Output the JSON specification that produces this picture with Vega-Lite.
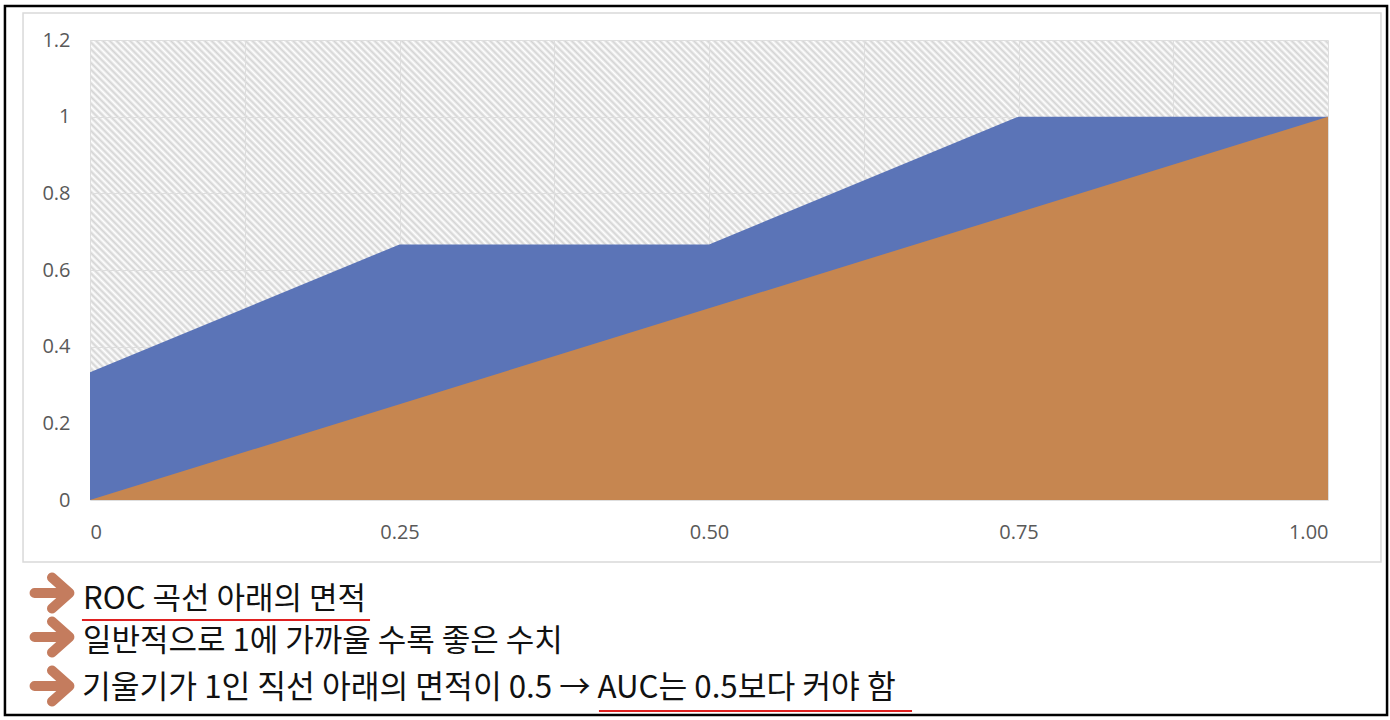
{
"$schema":"https://vega.github.io/schema/vega-lite/v6.json",
"autosize":"none",
"width":1238,"height":460,
"padding":{"left":90,"top":40,"right":62,"bottom":220},
"background":"white",
"view":{"stroke":null,"fill":{"gradient":"linear","x1":0,"y1":1,"x2":1.2053,"y2":0.5521,"stops":[
{"offset":0,"color":"#fff"},{"offset":0.002,"color":"#d4d4d4"},{"offset":0.004,"color":"#fff"},{"offset":0.006,"color":"#d4d4d4"},{"offset":0.008,"color":"#fff"},{"offset":0.01,"color":"#d4d4d4"},{"offset":0.012,"color":"#fff"},{"offset":0.014,"color":"#d4d4d4"},{"offset":0.016,"color":"#fff"},{"offset":0.018,"color":"#d4d4d4"},
{"offset":0.02,"color":"#fff"},{"offset":0.022,"color":"#d4d4d4"},{"offset":0.024,"color":"#fff"},{"offset":0.026,"color":"#d4d4d4"},{"offset":0.028,"color":"#fff"},{"offset":0.03,"color":"#d4d4d4"},{"offset":0.032,"color":"#fff"},{"offset":0.034,"color":"#d4d4d4"},{"offset":0.036,"color":"#fff"},{"offset":0.038,"color":"#d4d4d4"},
{"offset":0.04,"color":"#fff"},{"offset":0.042,"color":"#d4d4d4"},{"offset":0.044,"color":"#fff"},{"offset":0.046,"color":"#d4d4d4"},{"offset":0.048,"color":"#fff"},{"offset":0.05,"color":"#d4d4d4"},{"offset":0.052,"color":"#fff"},{"offset":0.054,"color":"#d4d4d4"},{"offset":0.056,"color":"#fff"},{"offset":0.058,"color":"#d4d4d4"},
{"offset":0.06,"color":"#fff"},{"offset":0.062,"color":"#d4d4d4"},{"offset":0.064,"color":"#fff"},{"offset":0.066,"color":"#d4d4d4"},{"offset":0.068,"color":"#fff"},{"offset":0.07,"color":"#d4d4d4"},{"offset":0.072,"color":"#fff"},{"offset":0.074,"color":"#d4d4d4"},{"offset":0.076,"color":"#fff"},{"offset":0.078,"color":"#d4d4d4"},
{"offset":0.08,"color":"#fff"},{"offset":0.082,"color":"#d4d4d4"},{"offset":0.084,"color":"#fff"},{"offset":0.086,"color":"#d4d4d4"},{"offset":0.088,"color":"#fff"},{"offset":0.09,"color":"#d4d4d4"},{"offset":0.092,"color":"#fff"},{"offset":0.094,"color":"#d4d4d4"},{"offset":0.096,"color":"#fff"},{"offset":0.098,"color":"#d4d4d4"},
{"offset":0.1,"color":"#fff"},{"offset":0.102,"color":"#d4d4d4"},{"offset":0.104,"color":"#fff"},{"offset":0.106,"color":"#d4d4d4"},{"offset":0.108,"color":"#fff"},{"offset":0.11,"color":"#d4d4d4"},{"offset":0.112,"color":"#fff"},{"offset":0.114,"color":"#d4d4d4"},{"offset":0.116,"color":"#fff"},{"offset":0.118,"color":"#d4d4d4"},
{"offset":0.12,"color":"#fff"},{"offset":0.122,"color":"#d4d4d4"},{"offset":0.124,"color":"#fff"},{"offset":0.126,"color":"#d4d4d4"},{"offset":0.128,"color":"#fff"},{"offset":0.13,"color":"#d4d4d4"},{"offset":0.132,"color":"#fff"},{"offset":0.134,"color":"#d4d4d4"},{"offset":0.136,"color":"#fff"},{"offset":0.138,"color":"#d4d4d4"},
{"offset":0.14,"color":"#fff"},{"offset":0.142,"color":"#d4d4d4"},{"offset":0.144,"color":"#fff"},{"offset":0.146,"color":"#d4d4d4"},{"offset":0.148,"color":"#fff"},{"offset":0.15,"color":"#d4d4d4"},{"offset":0.152,"color":"#fff"},{"offset":0.154,"color":"#d4d4d4"},{"offset":0.156,"color":"#fff"},{"offset":0.158,"color":"#d4d4d4"},
{"offset":0.16,"color":"#fff"},{"offset":0.162,"color":"#d4d4d4"},{"offset":0.164,"color":"#fff"},{"offset":0.166,"color":"#d4d4d4"},{"offset":0.168,"color":"#fff"},{"offset":0.17,"color":"#d4d4d4"},{"offset":0.172,"color":"#fff"},{"offset":0.174,"color":"#d4d4d4"},{"offset":0.176,"color":"#fff"},{"offset":0.178,"color":"#d4d4d4"},
{"offset":0.18,"color":"#fff"},{"offset":0.182,"color":"#d4d4d4"},{"offset":0.184,"color":"#fff"},{"offset":0.186,"color":"#d4d4d4"},{"offset":0.188,"color":"#fff"},{"offset":0.19,"color":"#d4d4d4"},{"offset":0.192,"color":"#fff"},{"offset":0.194,"color":"#d4d4d4"},{"offset":0.196,"color":"#fff"},{"offset":0.198,"color":"#d4d4d4"},
{"offset":0.2,"color":"#fff"},{"offset":0.202,"color":"#d4d4d4"},{"offset":0.204,"color":"#fff"},{"offset":0.206,"color":"#d4d4d4"},{"offset":0.208,"color":"#fff"},{"offset":0.21,"color":"#d4d4d4"},{"offset":0.212,"color":"#fff"},{"offset":0.214,"color":"#d4d4d4"},{"offset":0.216,"color":"#fff"},{"offset":0.218,"color":"#d4d4d4"},
{"offset":0.22,"color":"#fff"},{"offset":0.222,"color":"#d4d4d4"},{"offset":0.224,"color":"#fff"},{"offset":0.226,"color":"#d4d4d4"},{"offset":0.228,"color":"#fff"},{"offset":0.23,"color":"#d4d4d4"},{"offset":0.232,"color":"#fff"},{"offset":0.234,"color":"#d4d4d4"},{"offset":0.236,"color":"#fff"},{"offset":0.238,"color":"#d4d4d4"},
{"offset":0.24,"color":"#fff"},{"offset":0.242,"color":"#d4d4d4"},{"offset":0.244,"color":"#fff"},{"offset":0.246,"color":"#d4d4d4"},{"offset":0.248,"color":"#fff"},{"offset":0.25,"color":"#d4d4d4"},{"offset":0.252,"color":"#fff"},{"offset":0.254,"color":"#d4d4d4"},{"offset":0.256,"color":"#fff"},{"offset":0.258,"color":"#d4d4d4"},
{"offset":0.26,"color":"#fff"},{"offset":0.262,"color":"#d4d4d4"},{"offset":0.264,"color":"#fff"},{"offset":0.266,"color":"#d4d4d4"},{"offset":0.268,"color":"#fff"},{"offset":0.27,"color":"#d4d4d4"},{"offset":0.272,"color":"#fff"},{"offset":0.274,"color":"#d4d4d4"},{"offset":0.276,"color":"#fff"},{"offset":0.278,"color":"#d4d4d4"},
{"offset":0.28,"color":"#fff"},{"offset":0.282,"color":"#d4d4d4"},{"offset":0.284,"color":"#fff"},{"offset":0.286,"color":"#d4d4d4"},{"offset":0.288,"color":"#fff"},{"offset":0.29,"color":"#d4d4d4"},{"offset":0.292,"color":"#fff"},{"offset":0.294,"color":"#d4d4d4"},{"offset":0.296,"color":"#fff"},{"offset":0.298,"color":"#d4d4d4"},
{"offset":0.3,"color":"#fff"},{"offset":0.302,"color":"#d4d4d4"},{"offset":0.304,"color":"#fff"},{"offset":0.306,"color":"#d4d4d4"},{"offset":0.308,"color":"#fff"},{"offset":0.31,"color":"#d4d4d4"},{"offset":0.312,"color":"#fff"},{"offset":0.314,"color":"#d4d4d4"},{"offset":0.316,"color":"#fff"},{"offset":0.318,"color":"#d4d4d4"},
{"offset":0.32,"color":"#fff"},{"offset":0.322,"color":"#d4d4d4"},{"offset":0.324,"color":"#fff"},{"offset":0.326,"color":"#d4d4d4"},{"offset":0.328,"color":"#fff"},{"offset":0.33,"color":"#d4d4d4"},{"offset":0.332,"color":"#fff"},{"offset":0.334,"color":"#d4d4d4"},{"offset":0.336,"color":"#fff"},{"offset":0.338,"color":"#d4d4d4"},
{"offset":0.34,"color":"#fff"},{"offset":0.342,"color":"#d4d4d4"},{"offset":0.344,"color":"#fff"},{"offset":0.346,"color":"#d4d4d4"},{"offset":0.348,"color":"#fff"},{"offset":0.35,"color":"#d4d4d4"},{"offset":0.352,"color":"#fff"},{"offset":0.354,"color":"#d4d4d4"},{"offset":0.356,"color":"#fff"},{"offset":0.358,"color":"#d4d4d4"},
{"offset":0.36,"color":"#fff"},{"offset":0.362,"color":"#d4d4d4"},{"offset":0.364,"color":"#fff"},{"offset":0.366,"color":"#d4d4d4"},{"offset":0.368,"color":"#fff"},{"offset":0.37,"color":"#d4d4d4"},{"offset":0.372,"color":"#fff"},{"offset":0.374,"color":"#d4d4d4"},{"offset":0.376,"color":"#fff"},{"offset":0.378,"color":"#d4d4d4"},
{"offset":0.38,"color":"#fff"},{"offset":0.382,"color":"#d4d4d4"},{"offset":0.384,"color":"#fff"},{"offset":0.386,"color":"#d4d4d4"},{"offset":0.388,"color":"#fff"},{"offset":0.39,"color":"#d4d4d4"},{"offset":0.392,"color":"#fff"},{"offset":0.394,"color":"#d4d4d4"},{"offset":0.396,"color":"#fff"},{"offset":0.398,"color":"#d4d4d4"},
{"offset":0.4,"color":"#fff"},{"offset":0.402,"color":"#d4d4d4"},{"offset":0.404,"color":"#fff"},{"offset":0.406,"color":"#d4d4d4"},{"offset":0.408,"color":"#fff"},{"offset":0.41,"color":"#d4d4d4"},{"offset":0.412,"color":"#fff"},{"offset":0.414,"color":"#d4d4d4"},{"offset":0.416,"color":"#fff"},{"offset":0.418,"color":"#d4d4d4"},
{"offset":0.42,"color":"#fff"},{"offset":0.422,"color":"#d4d4d4"},{"offset":0.424,"color":"#fff"},{"offset":0.426,"color":"#d4d4d4"},{"offset":0.428,"color":"#fff"},{"offset":0.43,"color":"#d4d4d4"},{"offset":0.432,"color":"#fff"},{"offset":0.434,"color":"#d4d4d4"},{"offset":0.436,"color":"#fff"},{"offset":0.438,"color":"#d4d4d4"},
{"offset":0.44,"color":"#fff"},{"offset":0.442,"color":"#d4d4d4"},{"offset":0.444,"color":"#fff"},{"offset":0.446,"color":"#d4d4d4"},{"offset":0.448,"color":"#fff"},{"offset":0.45,"color":"#d4d4d4"},{"offset":0.452,"color":"#fff"},{"offset":0.454,"color":"#d4d4d4"},{"offset":0.456,"color":"#fff"},{"offset":0.458,"color":"#d4d4d4"},
{"offset":0.46,"color":"#fff"},{"offset":0.462,"color":"#d4d4d4"},{"offset":0.464,"color":"#fff"},{"offset":0.466,"color":"#d4d4d4"},{"offset":0.468,"color":"#fff"},{"offset":0.47,"color":"#d4d4d4"},{"offset":0.472,"color":"#fff"},{"offset":0.474,"color":"#d4d4d4"},{"offset":0.476,"color":"#fff"},{"offset":0.478,"color":"#d4d4d4"},
{"offset":0.48,"color":"#fff"},{"offset":0.482,"color":"#d4d4d4"},{"offset":0.484,"color":"#fff"},{"offset":0.486,"color":"#d4d4d4"},{"offset":0.488,"color":"#fff"},{"offset":0.49,"color":"#d4d4d4"},{"offset":0.492,"color":"#fff"},{"offset":0.494,"color":"#d4d4d4"},{"offset":0.496,"color":"#fff"},{"offset":0.498,"color":"#d4d4d4"},
{"offset":0.5,"color":"#fff"},{"offset":0.502,"color":"#d4d4d4"},{"offset":0.504,"color":"#fff"},{"offset":0.506,"color":"#d4d4d4"},{"offset":0.508,"color":"#fff"},{"offset":0.51,"color":"#d4d4d4"},{"offset":0.512,"color":"#fff"},{"offset":0.514,"color":"#d4d4d4"},{"offset":0.516,"color":"#fff"},{"offset":0.518,"color":"#d4d4d4"},
{"offset":0.52,"color":"#fff"},{"offset":0.522,"color":"#d4d4d4"},{"offset":0.524,"color":"#fff"},{"offset":0.526,"color":"#d4d4d4"},{"offset":0.528,"color":"#fff"},{"offset":0.53,"color":"#d4d4d4"},{"offset":0.532,"color":"#fff"},{"offset":0.534,"color":"#d4d4d4"},{"offset":0.536,"color":"#fff"},{"offset":0.538,"color":"#d4d4d4"},
{"offset":0.54,"color":"#fff"},{"offset":0.542,"color":"#d4d4d4"},{"offset":0.544,"color":"#fff"},{"offset":0.546,"color":"#d4d4d4"},{"offset":0.548,"color":"#fff"},{"offset":0.55,"color":"#d4d4d4"},{"offset":0.552,"color":"#fff"},{"offset":0.554,"color":"#d4d4d4"},{"offset":0.556,"color":"#fff"},{"offset":0.558,"color":"#d4d4d4"},
{"offset":0.56,"color":"#fff"},{"offset":0.562,"color":"#d4d4d4"},{"offset":0.564,"color":"#fff"},{"offset":0.566,"color":"#d4d4d4"},{"offset":0.568,"color":"#fff"},{"offset":0.57,"color":"#d4d4d4"},{"offset":0.572,"color":"#fff"},{"offset":0.574,"color":"#d4d4d4"},{"offset":0.576,"color":"#fff"},{"offset":0.578,"color":"#d4d4d4"},
{"offset":0.58,"color":"#fff"},{"offset":0.582,"color":"#d4d4d4"},{"offset":0.584,"color":"#fff"},{"offset":0.586,"color":"#d4d4d4"},{"offset":0.588,"color":"#fff"},{"offset":0.59,"color":"#d4d4d4"},{"offset":0.592,"color":"#fff"},{"offset":0.594,"color":"#d4d4d4"},{"offset":0.596,"color":"#fff"},{"offset":0.598,"color":"#d4d4d4"},
{"offset":0.6,"color":"#fff"},{"offset":0.602,"color":"#d4d4d4"},{"offset":0.604,"color":"#fff"},{"offset":0.606,"color":"#d4d4d4"},{"offset":0.608,"color":"#fff"},{"offset":0.61,"color":"#d4d4d4"},{"offset":0.612,"color":"#fff"},{"offset":0.614,"color":"#d4d4d4"},{"offset":0.616,"color":"#fff"},{"offset":0.618,"color":"#d4d4d4"},
{"offset":0.62,"color":"#fff"},{"offset":0.622,"color":"#d4d4d4"},{"offset":0.624,"color":"#fff"},{"offset":0.626,"color":"#d4d4d4"},{"offset":0.628,"color":"#fff"},{"offset":0.63,"color":"#d4d4d4"},{"offset":0.632,"color":"#fff"},{"offset":0.634,"color":"#d4d4d4"},{"offset":0.636,"color":"#fff"},{"offset":0.638,"color":"#d4d4d4"},
{"offset":0.64,"color":"#fff"},{"offset":0.642,"color":"#d4d4d4"},{"offset":0.644,"color":"#fff"},{"offset":0.646,"color":"#d4d4d4"},{"offset":0.648,"color":"#fff"},{"offset":0.65,"color":"#d4d4d4"},{"offset":0.652,"color":"#fff"},{"offset":0.654,"color":"#d4d4d4"},{"offset":0.656,"color":"#fff"},{"offset":0.658,"color":"#d4d4d4"},
{"offset":0.66,"color":"#fff"},{"offset":0.662,"color":"#d4d4d4"},{"offset":0.664,"color":"#fff"},{"offset":0.666,"color":"#d4d4d4"},{"offset":0.668,"color":"#fff"},{"offset":0.67,"color":"#d4d4d4"},{"offset":0.672,"color":"#fff"},{"offset":0.674,"color":"#d4d4d4"},{"offset":0.676,"color":"#fff"},{"offset":0.678,"color":"#d4d4d4"},
{"offset":0.68,"color":"#fff"},{"offset":0.682,"color":"#d4d4d4"},{"offset":0.684,"color":"#fff"},{"offset":0.686,"color":"#d4d4d4"},{"offset":0.688,"color":"#fff"},{"offset":0.69,"color":"#d4d4d4"},{"offset":0.692,"color":"#fff"},{"offset":0.694,"color":"#d4d4d4"},{"offset":0.696,"color":"#fff"},{"offset":0.698,"color":"#d4d4d4"},
{"offset":0.7,"color":"#fff"},{"offset":0.702,"color":"#d4d4d4"},{"offset":0.704,"color":"#fff"},{"offset":0.706,"color":"#d4d4d4"},{"offset":0.708,"color":"#fff"},{"offset":0.71,"color":"#d4d4d4"},{"offset":0.712,"color":"#fff"},{"offset":0.714,"color":"#d4d4d4"},{"offset":0.716,"color":"#fff"},{"offset":0.718,"color":"#d4d4d4"},
{"offset":0.72,"color":"#fff"},{"offset":0.722,"color":"#d4d4d4"},{"offset":0.724,"color":"#fff"},{"offset":0.726,"color":"#d4d4d4"},{"offset":0.728,"color":"#fff"},{"offset":0.73,"color":"#d4d4d4"},{"offset":0.732,"color":"#fff"},{"offset":0.734,"color":"#d4d4d4"},{"offset":0.736,"color":"#fff"},{"offset":0.738,"color":"#d4d4d4"},
{"offset":0.74,"color":"#fff"},{"offset":0.742,"color":"#d4d4d4"},{"offset":0.744,"color":"#fff"},{"offset":0.746,"color":"#d4d4d4"},{"offset":0.748,"color":"#fff"},{"offset":0.75,"color":"#d4d4d4"},{"offset":0.752,"color":"#fff"},{"offset":0.754,"color":"#d4d4d4"},{"offset":0.756,"color":"#fff"},{"offset":0.758,"color":"#d4d4d4"},
{"offset":0.76,"color":"#fff"},{"offset":0.762,"color":"#d4d4d4"},{"offset":0.764,"color":"#fff"},{"offset":0.766,"color":"#d4d4d4"},{"offset":0.768,"color":"#fff"},{"offset":0.77,"color":"#d4d4d4"},{"offset":0.772,"color":"#fff"},{"offset":0.774,"color":"#d4d4d4"},{"offset":0.776,"color":"#fff"},{"offset":0.778,"color":"#d4d4d4"},
{"offset":0.78,"color":"#fff"},{"offset":0.782,"color":"#d4d4d4"},{"offset":0.784,"color":"#fff"},{"offset":0.786,"color":"#d4d4d4"},{"offset":0.788,"color":"#fff"},{"offset":0.79,"color":"#d4d4d4"},{"offset":0.792,"color":"#fff"},{"offset":0.794,"color":"#d4d4d4"},{"offset":0.796,"color":"#fff"},{"offset":0.798,"color":"#d4d4d4"},
{"offset":0.8,"color":"#fff"},{"offset":0.802,"color":"#d4d4d4"},{"offset":0.804,"color":"#fff"},{"offset":0.806,"color":"#d4d4d4"},{"offset":0.808,"color":"#fff"},{"offset":0.81,"color":"#d4d4d4"},{"offset":0.812,"color":"#fff"},{"offset":0.814,"color":"#d4d4d4"},{"offset":0.816,"color":"#fff"},{"offset":0.818,"color":"#d4d4d4"},
{"offset":0.82,"color":"#fff"},{"offset":0.822,"color":"#d4d4d4"},{"offset":0.824,"color":"#fff"},{"offset":0.826,"color":"#d4d4d4"},{"offset":0.828,"color":"#fff"},{"offset":0.83,"color":"#d4d4d4"},{"offset":0.832,"color":"#fff"},{"offset":0.834,"color":"#d4d4d4"},{"offset":0.836,"color":"#fff"},{"offset":0.838,"color":"#d4d4d4"},
{"offset":0.84,"color":"#fff"},{"offset":0.842,"color":"#d4d4d4"},{"offset":0.844,"color":"#fff"},{"offset":0.846,"color":"#d4d4d4"},{"offset":0.848,"color":"#fff"},{"offset":0.85,"color":"#d4d4d4"},{"offset":0.852,"color":"#fff"},{"offset":0.854,"color":"#d4d4d4"},{"offset":0.856,"color":"#fff"},{"offset":0.858,"color":"#d4d4d4"},
{"offset":0.86,"color":"#fff"},{"offset":0.862,"color":"#d4d4d4"},{"offset":0.864,"color":"#fff"},{"offset":0.866,"color":"#d4d4d4"},{"offset":0.868,"color":"#fff"},{"offset":0.87,"color":"#d4d4d4"},{"offset":0.872,"color":"#fff"},{"offset":0.874,"color":"#d4d4d4"},{"offset":0.876,"color":"#fff"},{"offset":0.878,"color":"#d4d4d4"},
{"offset":0.88,"color":"#fff"},{"offset":0.882,"color":"#d4d4d4"},{"offset":0.884,"color":"#fff"},{"offset":0.886,"color":"#d4d4d4"},{"offset":0.888,"color":"#fff"},{"offset":0.89,"color":"#d4d4d4"},{"offset":0.892,"color":"#fff"},{"offset":0.894,"color":"#d4d4d4"},{"offset":0.896,"color":"#fff"},{"offset":0.898,"color":"#d4d4d4"},
{"offset":0.9,"color":"#fff"},{"offset":0.902,"color":"#d4d4d4"},{"offset":0.904,"color":"#fff"},{"offset":0.906,"color":"#d4d4d4"},{"offset":0.908,"color":"#fff"},{"offset":0.91,"color":"#d4d4d4"},{"offset":0.912,"color":"#fff"},{"offset":0.914,"color":"#d4d4d4"},{"offset":0.916,"color":"#fff"},{"offset":0.918,"color":"#d4d4d4"},
{"offset":0.92,"color":"#fff"},{"offset":0.922,"color":"#d4d4d4"},{"offset":0.924,"color":"#fff"},{"offset":0.926,"color":"#d4d4d4"},{"offset":0.928,"color":"#fff"},{"offset":0.93,"color":"#d4d4d4"},{"offset":0.932,"color":"#fff"},{"offset":0.934,"color":"#d4d4d4"},{"offset":0.936,"color":"#fff"},{"offset":0.938,"color":"#d4d4d4"},
{"offset":0.94,"color":"#fff"},{"offset":0.942,"color":"#d4d4d4"},{"offset":0.944,"color":"#fff"},{"offset":0.946,"color":"#d4d4d4"},{"offset":0.948,"color":"#fff"},{"offset":0.95,"color":"#d4d4d4"},{"offset":0.952,"color":"#fff"},{"offset":0.954,"color":"#d4d4d4"},{"offset":0.956,"color":"#fff"},{"offset":0.958,"color":"#d4d4d4"},
{"offset":0.96,"color":"#fff"},{"offset":0.962,"color":"#d4d4d4"},{"offset":0.964,"color":"#fff"},{"offset":0.966,"color":"#d4d4d4"},{"offset":0.968,"color":"#fff"},{"offset":0.97,"color":"#d4d4d4"},{"offset":0.972,"color":"#fff"},{"offset":0.974,"color":"#d4d4d4"},{"offset":0.976,"color":"#fff"},{"offset":0.978,"color":"#d4d4d4"},
{"offset":0.98,"color":"#fff"},{"offset":0.982,"color":"#d4d4d4"},{"offset":0.984,"color":"#fff"},{"offset":0.986,"color":"#d4d4d4"},{"offset":0.988,"color":"#fff"},{"offset":0.99,"color":"#d4d4d4"},{"offset":0.992,"color":"#fff"},{"offset":0.994,"color":"#d4d4d4"},{"offset":0.996,"color":"#fff"},{"offset":0.998,"color":"#d4d4d4"},
{"offset":1,"color":"#fff"}]}},
"config":{"axis":{"labelFont":"Open Sans","labelFontSize":20,"labelColor":"#595959","domain":false,"ticks":false,"gridColor":"#dedede","gridWidth":1,"title":null,"labelOverlap":false}},
"layer":[
{"data":{"values":[{"fpr":0,"roc":0.3333,"diag":0},{"fpr":0.25,"roc":0.6667,"diag":0.25},{"fpr":0.5,"roc":0.6667,"diag":0.5},{"fpr":0.75,"roc":1,"diag":0.75},{"fpr":1,"roc":1,"diag":1}]},
 "mark":{"type":"area","color":"#5b74b7","opacity":1},
 "encoding":{
  "x":{"field":"fpr","type":"quantitative","scale":{"domain":[0,1],"nice":false,"zero":false},
   "axis":{"values":[0,0.125,0.25,0.375,0.5,0.625,0.75,0.875,1],"labelExpr":"datum.value==0?'0':((datum.value*4)%1==0?format(datum.value,'.2f'):'')","labelPadding":22,"grid":true}},
  "y":{"field":"roc","type":"quantitative","scale":{"domain":[0,1.2],"nice":false,"zero":true},
   "axis":{"values":[0,0.2,0.4,0.6,0.8,1,1.2],"format":"~g","labelPadding":20,"grid":true}}}},
{"data":{"values":[{"fpr":0,"roc":0.3333,"diag":0},{"fpr":0.25,"roc":0.6667,"diag":0.25},{"fpr":0.5,"roc":0.6667,"diag":0.5},{"fpr":0.75,"roc":1,"diag":0.75},{"fpr":1,"roc":1,"diag":1}]},
 "mark":{"type":"area","color":"#c68650","opacity":1},
 "encoding":{"x":{"field":"fpr","type":"quantitative"},"y":{"field":"diag","type":"quantitative"}}},
{"data":{"values":[{}]},
 "mark":{"type":"rect","filled":false,"stroke":"#d9d9d9","strokeWidth":1.5,"clip":false},
 "encoding":{"x":{"datum":-0.0541},"x2":{"datum":1.0428},"y":{"datum":1.2704},"y2":{"datum":-0.1617}}},
{"data":{"values":[{}]},
 "mark":{"type":"rect","filled":false,"stroke":"#000000","strokeWidth":2.5,"clip":false},
 "encoding":{"x":{"datum":-0.0687},"x2":{"datum":1.0477},"y":{"datum":1.2887},"y2":{"datum":-0.5609}}},
{"data":{"values":[{}]},
 "mark":{"type":"point","shape":"M-0.9,0L0.85,0M0.0,-0.8L0.9,0L0.0,0.8","size":1500,"filled":false,"stroke":"#c47c5e","strokeWidth":10,"strokeCap":"round","strokeJoin":"round","opacity":1,"clip":false},
 "encoding":{"x":{"datum":-0.0307},"y":{"datum":-0.2426}}},
{"data":{"values":[{}]},
 "mark":{"type":"point","shape":"M-0.9,0L0.85,0M0.0,-0.8L0.9,0L0.0,0.8","size":1500,"filled":false,"stroke":"#c47c5e","strokeWidth":10,"strokeCap":"round","strokeJoin":"round","opacity":1,"clip":false},
 "encoding":{"x":{"datum":-0.0307},"y":{"datum":-0.3574}}},
{"data":{"values":[{}]},
 "mark":{"type":"point","shape":"M-0.9,0L0.85,0M0.0,-0.8L0.9,0L0.0,0.8","size":1500,"filled":false,"stroke":"#c47c5e","strokeWidth":10,"strokeCap":"round","strokeJoin":"round","opacity":1,"clip":false},
 "encoding":{"x":{"datum":-0.0307},"y":{"datum":-0.4852}}},
{"data":{"values":[{"t":"ROC 곡선 아래의 면적"}]},
 "mark":{"type":"text","align":"left","baseline":"alphabetic","font":"Noto Sans CJK KR","fontSize":31,"color":"#111111","clip":false},
 "encoding":{"x":{"datum":-0.00565},"y":{"datum":-0.2843},"text":{"field":"t"}}},
{"data":{"values":[{"t":"일반적으로 1에 가까울 수록 좋은 수치"}]},
 "mark":{"type":"text","align":"left","baseline":"alphabetic","font":"Noto Sans CJK KR","fontSize":31,"color":"#111111","clip":false},
 "encoding":{"x":{"datum":-0.00565},"y":{"datum":-0.3939},"text":{"field":"t"}}},
{"data":{"values":[{"t":"기울기가 1인 직선 아래의 면적이 0.5 → AUC는 0.5보다 커야 함"}]},
 "mark":{"type":"text","align":"left","baseline":"alphabetic","font":"Noto Sans CJK KR","fontSize":31.3,"color":"#111111","clip":false},
 "encoding":{"x":{"datum":-0.0065},"y":{"datum":-0.5165},"text":{"field":"t"}}},
{"data":{"values":[{}]},
 "mark":{"type":"rule","color":"#e02020","strokeWidth":2.2,"clip":false},
 "encoding":{"x":{"datum":-0.0065},"x2":{"datum":0.2262},"y":{"datum":-0.3130}}},
{"data":{"values":[{}]},
 "mark":{"type":"rule","color":"#e02020","strokeWidth":2.2,"clip":false},
 "encoding":{"x":{"datum":0.4111},"x2":{"datum":0.6640},"y":{"datum":-0.5504}}}
]
}
